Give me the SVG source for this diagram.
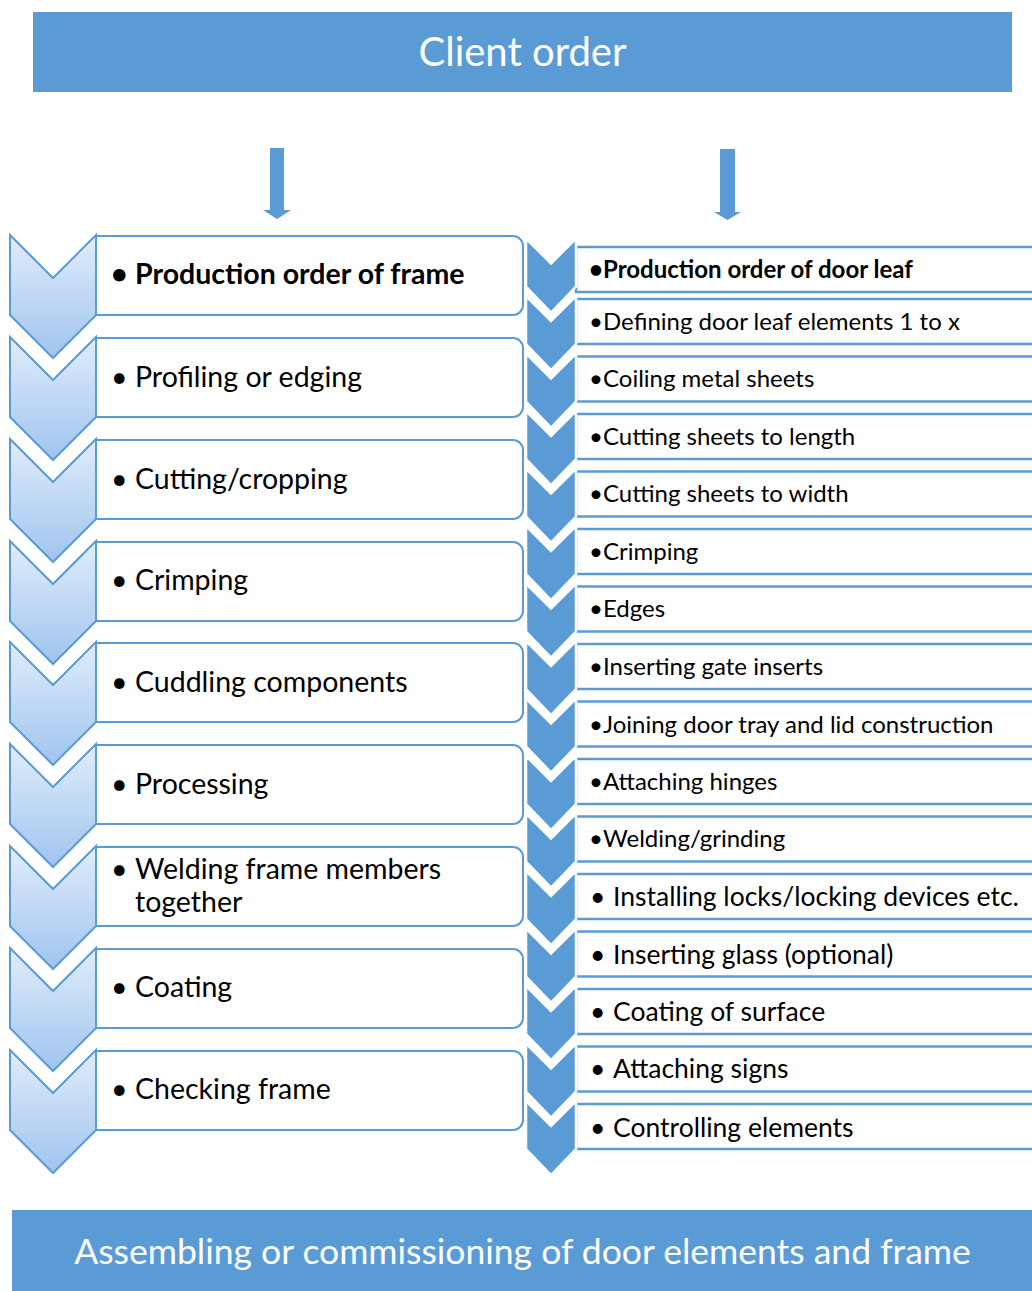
<svg xmlns="http://www.w3.org/2000/svg" width="1032" height="1291" viewBox="0 0 1032 1291">
<style>
.bar{fill:#5B9BD5}
.bartxt{fill:#fff;font-family:Lato,"Open Sans","Liberation Sans",sans-serif;text-anchor:middle}
.lchev{fill:url(#lg);stroke:#5B9BD5;stroke-width:2;stroke-linejoin:miter}
.lbox{fill:#fff;stroke:#5B9BD5;stroke-width:2}
.ltxt{fill:#000;font-family:Lato,"Open Sans","Liberation Sans",sans-serif;font-size:28.5px}
.rchev{fill:#5B9BD5;stroke:#fff;stroke-width:2.5}
.rbox{fill:#fff;stroke:#5B9BD5;stroke-width:2.5}
.rtxt{fill:#000;font-family:Lato,"Open Sans","Liberation Sans",sans-serif;font-size:24px}
.rtxt2{fill:#000;font-family:Lato,"Open Sans","Liberation Sans",sans-serif;font-size:26.5px}
.b{font-weight:bold}
.arr{fill:#5B9BD5}
</style>
<defs>
<linearGradient id="lg" x1="0" y1="0" x2="0" y2="1">
<stop offset="0" stop-color="#E1EDFA"/>
<stop offset="1" stop-color="#9FC4EF"/>
</linearGradient>
</defs>

<g id="client-order">
<rect class="bar" x="33" y="12" width="979" height="80"/>
<text class="bartxt" x="522.5" y="66" font-size="40">Client order</text>
</g>

<g id="connectors">
<path class="arr" d="M270,148 H284 V210 H291 L277,219 L263,210 H270 Z"/>
<path class="arr" d="M720,149 H735 V212 H741 L727.5,220 L714,212 H720 Z"/>
</g>

<g id="frame-steps">
<g id="f1">
<path class="lbox" d="M96,236 H513 A10,10 0 0 1 523,246 V305 A10,10 0 0 1 513,315 H96 Z"/>
<path class="lchev" d="M10,235 L53,278 L96,235 V315 L53,358 L10,315 Z"/>
<text class="ltxt b" y="284"><tspan x="111">•</tspan><tspan x="135">Production order of frame</tspan></text>
</g>
<g id="f2">
<path class="lbox" d="M96,338 H513 A10,10 0 0 1 523,348 V407 A10,10 0 0 1 513,417 H96 Z"/>
<path class="lchev" d="M10,337 L53,380 L96,337 V417 L53,460 L10,417 Z"/>
<text class="ltxt" y="387"><tspan x="111">•</tspan><tspan x="135">Profiling or edging</tspan></text>
</g>
<g id="f3">
<path class="lbox" d="M96,440 H513 A10,10 0 0 1 523,450 V509 A10,10 0 0 1 513,519 H96 Z"/>
<path class="lchev" d="M10,439 L53,482 L96,439 V519 L53,562 L10,519 Z"/>
<text class="ltxt" y="489"><tspan x="111">•</tspan><tspan x="135">Cutting/cropping</tspan></text>
</g>
<g id="f4">
<path class="lbox" d="M96,542 H513 A10,10 0 0 1 523,552 V611 A10,10 0 0 1 513,621 H96 Z"/>
<path class="lchev" d="M10,541 L53,584 L96,541 V621 L53,664 L10,621 Z"/>
<text class="ltxt" y="590"><tspan x="111">•</tspan><tspan x="135">Crimping</tspan></text>
</g>
<g id="f5">
<path class="lbox" d="M96,643 H513 A10,10 0 0 1 523,653 V712 A10,10 0 0 1 513,722 H96 Z"/>
<path class="lchev" d="M10,642 L53,685 L96,642 V722 L53,765 L10,722 Z"/>
<text class="ltxt" y="692"><tspan x="111">•</tspan><tspan x="135">Cuddling components</tspan></text>
</g>
<g id="f6">
<path class="lbox" d="M96,745 H513 A10,10 0 0 1 523,755 V814 A10,10 0 0 1 513,824 H96 Z"/>
<path class="lchev" d="M10,744 L53,787 L96,744 V824 L53,867 L10,824 Z"/>
<text class="ltxt" y="794"><tspan x="111">•</tspan><tspan x="135">Processing</tspan></text>
</g>
<g id="f7">
<path class="lbox" d="M96,847 H513 A10,10 0 0 1 523,857 V916 A10,10 0 0 1 513,926 H96 Z"/>
<path class="lchev" d="M10,846 L53,889 L96,846 V926 L53,969 L10,926 Z"/>
<text class="ltxt" y="879"><tspan x="111">•</tspan><tspan x="135">Welding frame members</tspan><tspan x="135" dy="33">together</tspan></text>
</g>
<g id="f8">
<path class="lbox" d="M96,949 H513 A10,10 0 0 1 523,959 V1018 A10,10 0 0 1 513,1028 H96 Z"/>
<path class="lchev" d="M10,948 L53,991 L96,948 V1028 L53,1071 L10,1028 Z"/>
<text class="ltxt" y="997"><tspan x="111">•</tspan><tspan x="135">Coating</tspan></text>
</g>
<g id="f9">
<path class="lbox" d="M96,1051 H513 A10,10 0 0 1 523,1061 V1120 A10,10 0 0 1 513,1130 H96 Z"/>
<path class="lchev" d="M10,1050 L53,1093 L96,1050 V1130 L53,1173 L10,1130 Z"/>
<text class="ltxt" y="1099"><tspan x="111">•</tspan><tspan x="135">Checking frame</tspan></text>
</g>
</g>

<g id="door-leaf-steps">
<g id="d1"><rect class="rbox" x="576" y="247" width="470" height="45"/><path class="rchev" d="M526,238.5 L551,263.5 L576,238.5 V286.5 L551,312.5 L526,286.5 Z"/><text class="rtxt b" y="278"><tspan x="589">•</tspan><tspan x="603">Production order of door leaf</tspan></text></g>
<g id="d2"><rect class="rbox" x="576" y="299" width="470" height="45"/><path class="rchev" d="M526,296 L551,321 L576,296 V344 L551,370 L526,344 Z"/><text class="rtxt" y="330"><tspan x="589">•</tspan><tspan x="603">Defining door leaf elements 1 to x</tspan></text></g>
<g id="d3"><rect class="rbox" x="576" y="356.5" width="470" height="45"/><path class="rchev" d="M526,353.5 L551,378.5 L576,353.5 V401.5 L551,427.5 L526,401.5 Z"/><text class="rtxt" y="387"><tspan x="589">•</tspan><tspan x="603">Coiling metal sheets</tspan></text></g>
<g id="d4"><rect class="rbox" x="576" y="414" width="470" height="45"/><path class="rchev" d="M526,411 L551,436 L576,411 V459 L551,485 L526,459 Z"/><text class="rtxt" y="445"><tspan x="589">•</tspan><tspan x="603">Cutting sheets to length</tspan></text></g>
<g id="d5"><rect class="rbox" x="576" y="471.5" width="470" height="45"/><path class="rchev" d="M526,468.5 L551,493.5 L576,468.5 V516.5 L551,542.5 L526,516.5 Z"/><text class="rtxt" y="502"><tspan x="589">•</tspan><tspan x="603">Cutting sheets to width</tspan></text></g>
<g id="d6"><rect class="rbox" x="576" y="529" width="470" height="45"/><path class="rchev" d="M526,526 L551,551 L576,526 V574 L551,600 L526,574 Z"/><text class="rtxt" y="560"><tspan x="589">•</tspan><tspan x="603">Crimping</tspan></text></g>
<g id="d7"><rect class="rbox" x="576" y="586.5" width="470" height="45"/><path class="rchev" d="M526,583.5 L551,608.5 L576,583.5 V631.5 L551,657.5 L526,631.5 Z"/><text class="rtxt" y="617"><tspan x="589">•</tspan><tspan x="603">Edges</tspan></text></g>
<g id="d8"><rect class="rbox" x="576" y="644" width="470" height="45"/><path class="rchev" d="M526,641 L551,666 L576,641 V689 L551,715 L526,689 Z"/><text class="rtxt" y="675"><tspan x="589">•</tspan><tspan x="603">Inserting gate inserts</tspan></text></g>
<g id="d9"><rect class="rbox" x="576" y="701.5" width="470" height="45"/><path class="rchev" d="M526,698.5 L551,723.5 L576,698.5 V746.5 L551,772.5 L526,746.5 Z"/><text class="rtxt" y="733"><tspan x="589">•</tspan><tspan x="603">Joining door tray and lid construction</tspan></text></g>
<g id="d10"><rect class="rbox" x="576" y="759" width="470" height="45"/><path class="rchev" d="M526,756 L551,781 L576,756 V804 L551,830 L526,804 Z"/><text class="rtxt" y="790"><tspan x="589">•</tspan><tspan x="603">Attaching hinges</tspan></text></g>
<g id="d11"><rect class="rbox" x="576" y="816.5" width="470" height="45"/><path class="rchev" d="M526,813.5 L551,838.5 L576,813.5 V861.5 L551,887.5 L526,861.5 Z"/><text class="rtxt" y="847"><tspan x="589">•</tspan><tspan x="603">Welding/grinding</tspan></text></g>
<g id="d12"><rect class="rbox" x="576" y="874" width="470" height="45"/><path class="rchev" d="M526,871 L551,896 L576,871 V919 L551,945 L526,919 Z"/><text class="rtxt2" y="905.5"><tspan x="590">•</tspan><tspan x="613">Installing locks/locking devices etc.</tspan></text></g>
<g id="d13"><rect class="rbox" x="576" y="931.5" width="470" height="45"/><path class="rchev" d="M526,928.5 L551,953.5 L576,928.5 V976.5 L551,1002.5 L526,976.5 Z"/><text class="rtxt2" y="963.5"><tspan x="590">•</tspan><tspan x="613">Inserting glass (optional)</tspan></text></g>
<g id="d14"><rect class="rbox" x="576" y="989" width="470" height="45"/><path class="rchev" d="M526,986 L551,1011 L576,986 V1034 L551,1060 L526,1034 Z"/><text class="rtxt2" y="1020.5"><tspan x="590">•</tspan><tspan x="613">Coating of surface</tspan></text></g>
<g id="d15"><rect class="rbox" x="576" y="1046.5" width="470" height="45"/><path class="rchev" d="M526,1043.5 L551,1068.5 L576,1043.5 V1091.5 L551,1117.5 L526,1091.5 Z"/><text class="rtxt2" y="1077.5"><tspan x="590">•</tspan><tspan x="613">Attaching signs</tspan></text></g>
<g id="d16"><rect class="rbox" x="576" y="1104" width="470" height="45"/><path class="rchev" d="M526,1101 L551,1126 L576,1101 V1149 L551,1175 L526,1149 Z"/><text class="rtxt2" y="1136.5"><tspan x="590">•</tspan><tspan x="613">Controlling elements</tspan></text></g>
</g>

<g id="assembling">
<rect class="bar" x="12" y="1210" width="1030" height="81"/>
<text class="bartxt" x="522.5" y="1264" font-size="35.5">Assembling or commissioning of door elements and frame</text>
</g>
</svg>
